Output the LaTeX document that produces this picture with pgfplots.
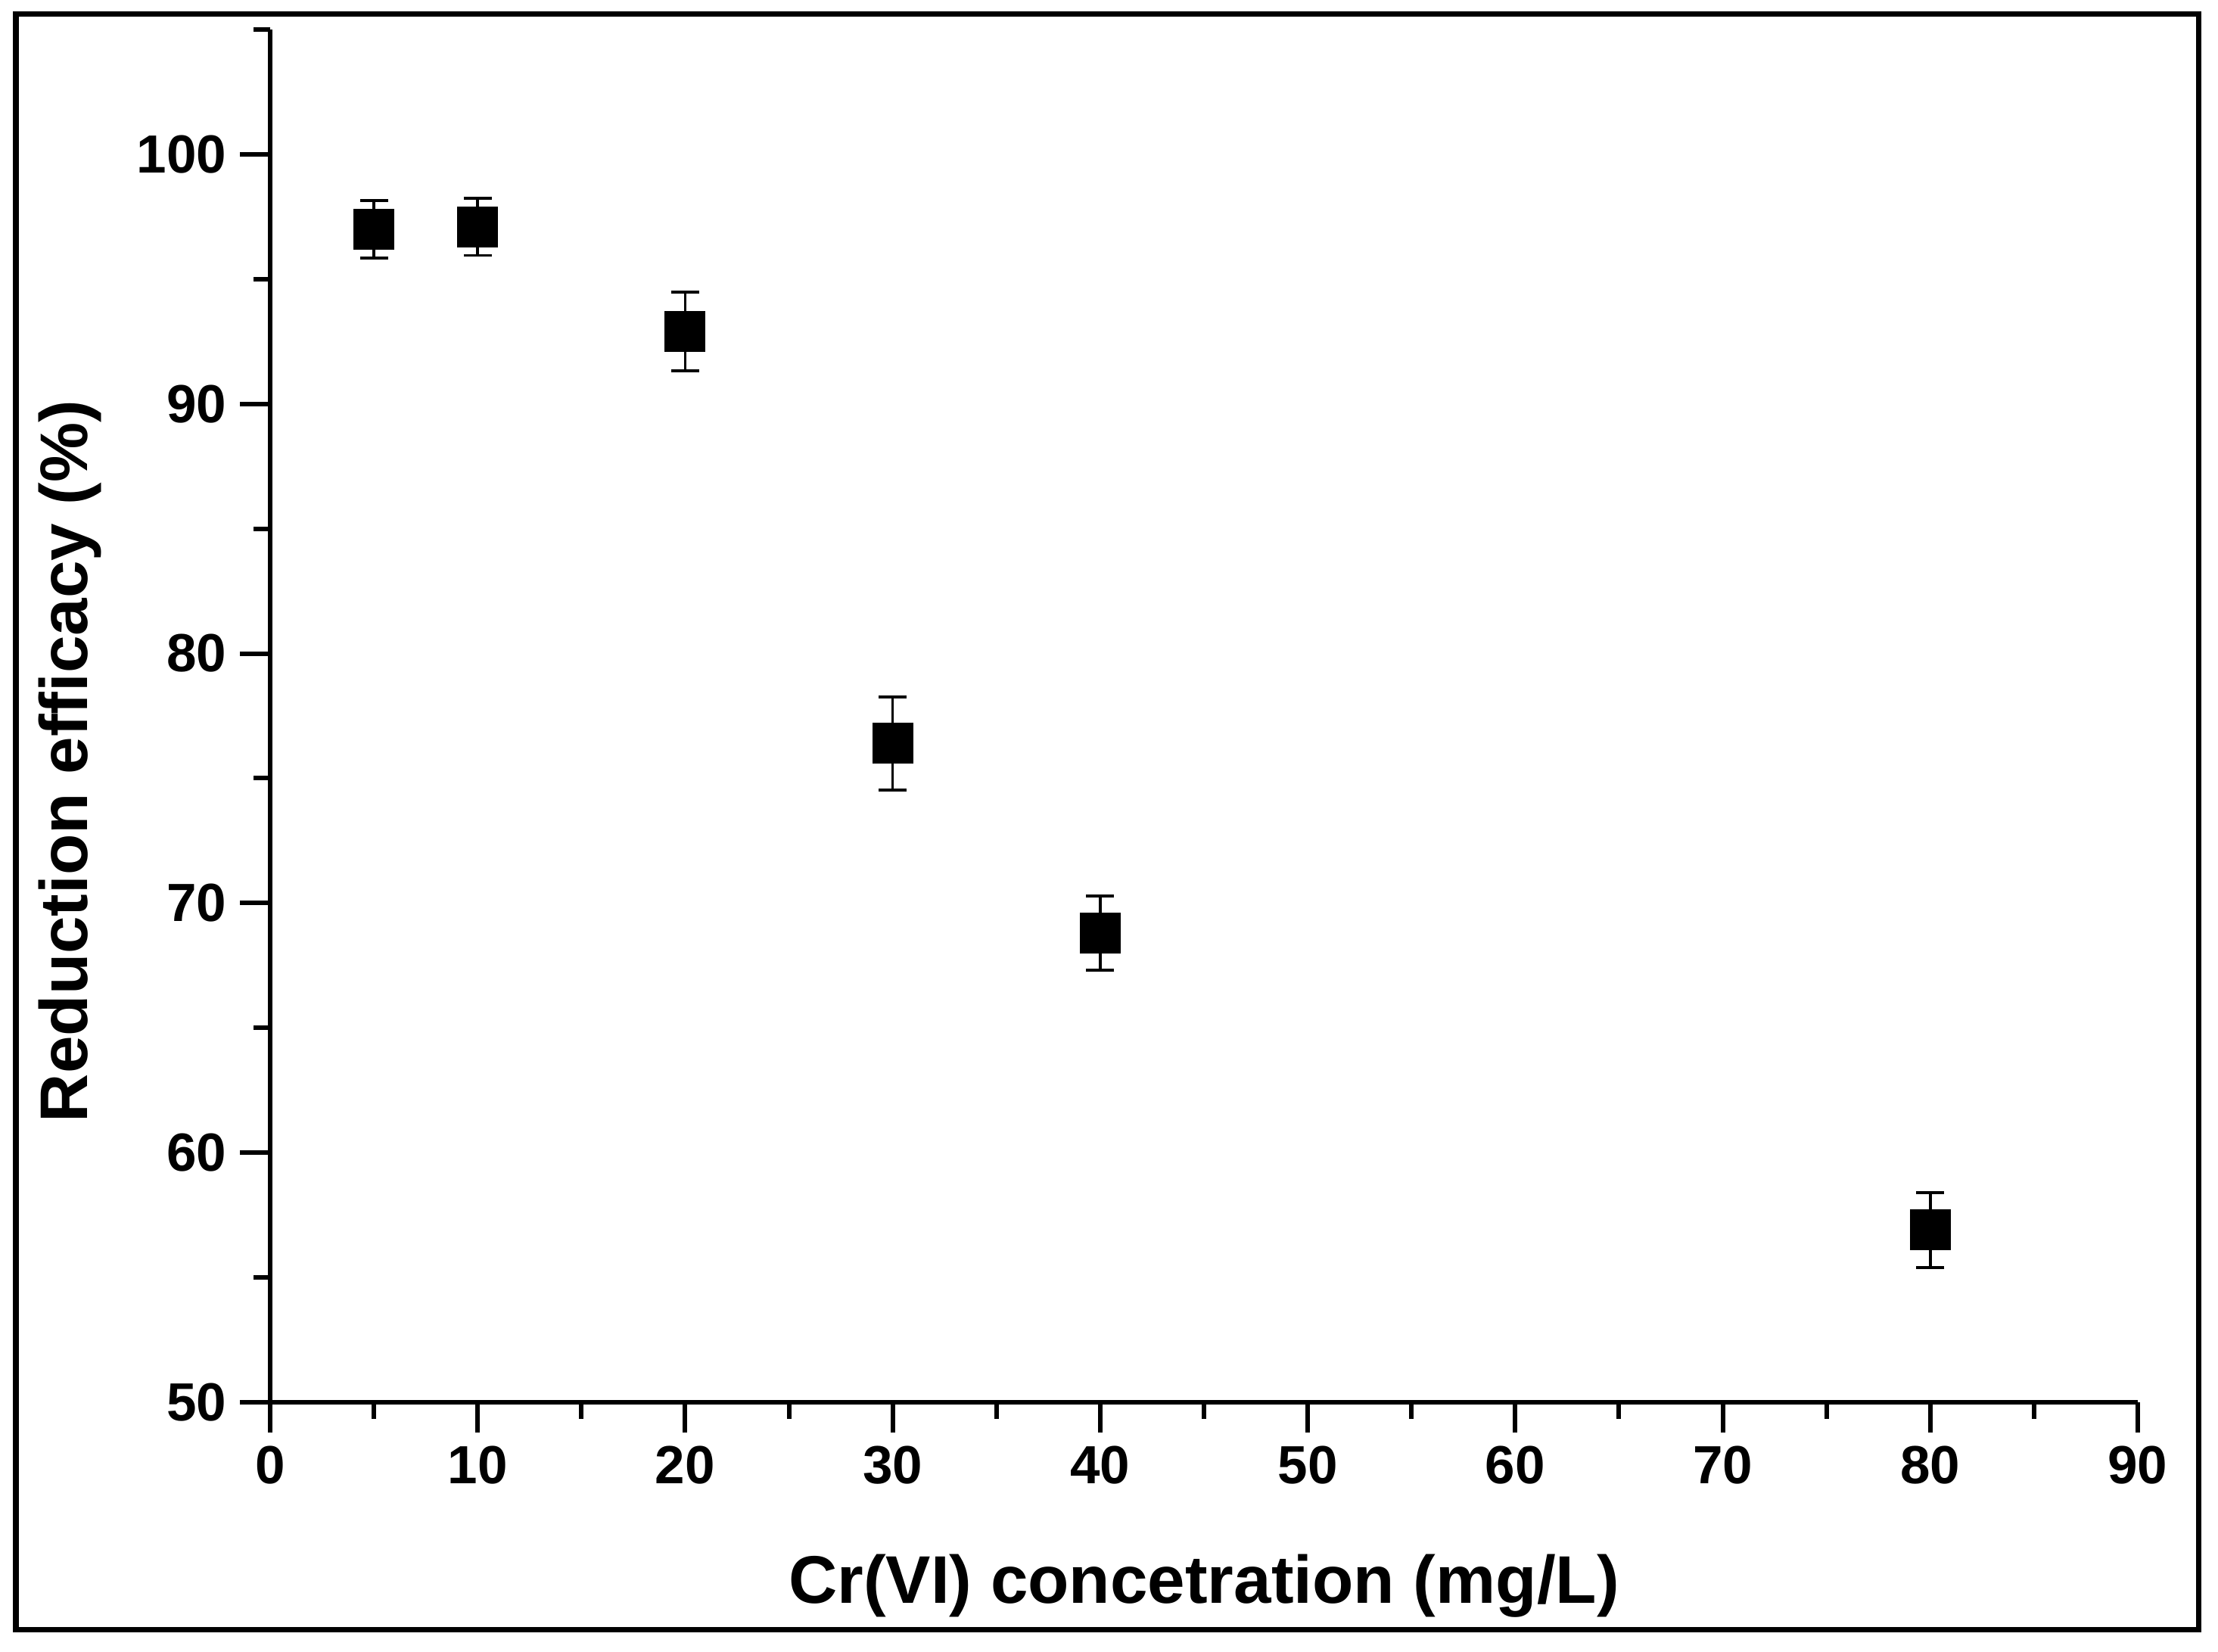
\documentclass[border=0pt]{standalone}
\usepackage{fontspec}
\setmainfont{Liberation Sans}
\usepackage{pgfplots}
\pgfplotsset{compat=1.18}
\begin{document}
\begin{tikzpicture}
\useasboundingbox (0,0) rectangle (586.2pt,436.4pt);
\draw[line width=1.5pt] (4.16pt,5.66pt) rectangle (581.1pt,432.74pt);
\begin{axis}[
  at={(71.4pt,65.8pt)}, anchor=south west,
  scale only axis, width=493.6pt, height=362.8pt,
  xmin=0, xmax=90, ymin=50, ymax=105,
  axis x line*=bottom, axis y line*=left,
  axis line style={line width=1.35pt},
  xtick={0,10,...,90}, ytick={50,60,...,100},
  minor xtick={5,15,...,85}, minor ytick={55,65,...,105},
  tick align=outside,
  major tick length=8pt, minor tick length=4.4pt,
  every tick/.style={black, line width=1.2pt},
  /pgf/number format/assume math mode=true,
  tick label style={font=\fontsize{14.2}{14.2}\selectfont\bfseries},
  label style={font=\fontsize{17.8}{17.8}\selectfont\bfseries},
  xlabel={Cr(VI) concetration (mg/L)},
  ylabel={Reduction efficacy (\%)},
  xlabel style={at={(axis description cs:0.5,-0.1461)}, anchor=base},
  ylabel style={at={(axis description cs:-0.0977,0.467)}, anchor=base, rotate=0},
  clip=false,
]
\addplot[black, only marks, mark=square*, mark size=5.2pt,
  error bars/.cd, y dir=both, y explicit,
  error mark=-, error mark options={rotate=90, mark size=3.7pt, line width=0.75pt, black},
  error bar style={line width=0.7pt, black}]
  coordinates {
    (5,97.0) +- (0,1.15)
    (10,97.1) +- (0,1.15)
    (20,92.9) +- (0,1.58)
    (30,76.4) +- (0,1.86)
    (40,68.8) +- (0,1.48)
    (80,56.9) +- (0,1.5)
  };
\end{axis}
\end{tikzpicture}
\end{document}
